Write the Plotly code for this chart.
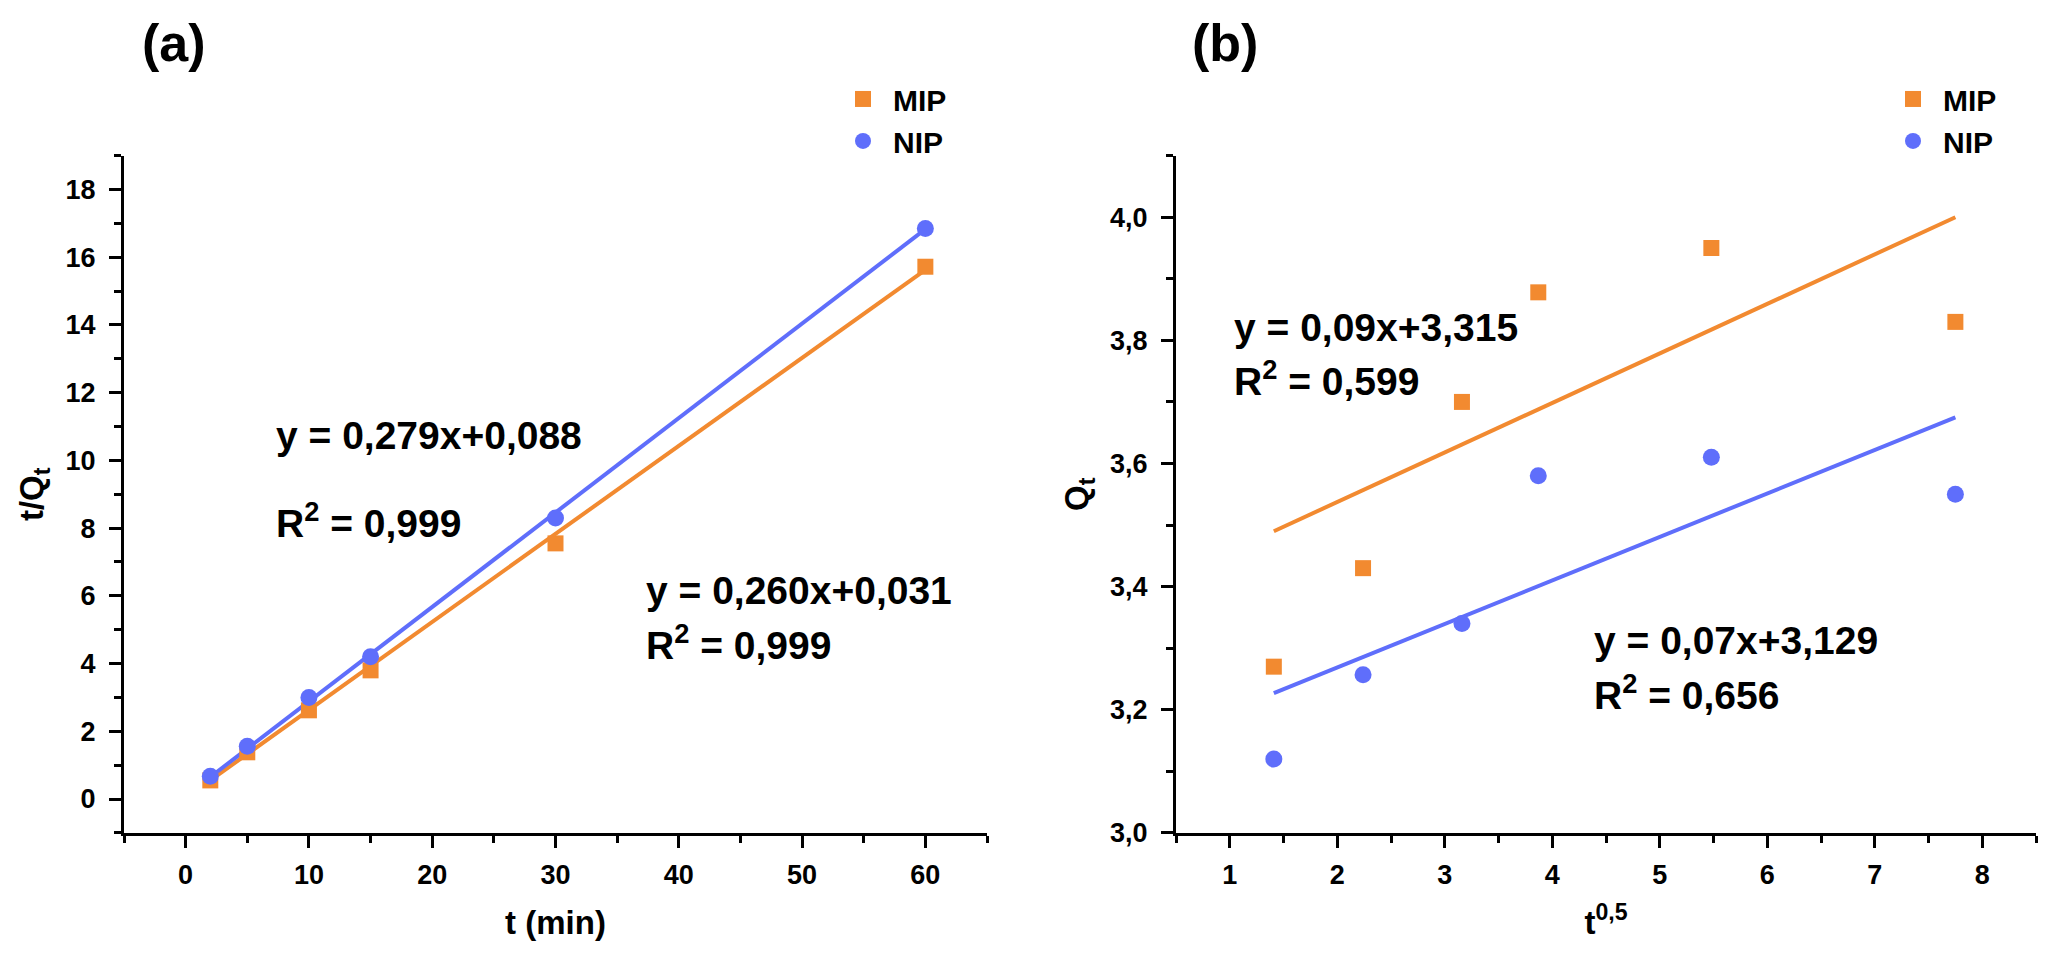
import plotly.graph_objects as go

# panel (a): pseudo-second-order, t/Qt vs t
t_min = [2, 5, 10, 15, 30, 60]
mip_tq = [0.55, 1.38, 2.62, 3.8, 7.55, 15.72]
nip_tq = [0.67, 1.56, 3.0, 4.2, 8.3, 16.85]
fit_t = [2, 60]
mip_fit_a = [0.55, 15.63]
nip_fit_a = [0.65, 16.83]

# panel (b): intraparticle diffusion, Qt vs t^0.5
t_sqrt = [1.41, 2.24, 3.16, 3.87, 5.48, 7.75]
mip_qt = [3.27, 3.43, 3.70, 3.878, 3.95, 3.83]
nip_qt = [3.12, 3.257, 3.34, 3.58, 3.61, 3.55]
fit_sqrt = [1.41, 7.75]
mip_fit_b = [3.49, 4.0]
nip_fit_b = [3.227, 3.675]

orange = '#F28A30'
blue = '#5F6EFB'
fnt = 'Liberation Sans, Arial, sans-serif'

fig = go.Figure()

# fit lines first so the markers sit on top
fig.add_trace(go.Scatter(x=fit_t, y=mip_fit_a, mode='lines', line=dict(color=orange, width=4),
                         showlegend=False, xaxis='x', yaxis='y'))
fig.add_trace(go.Scatter(x=fit_t, y=nip_fit_a, mode='lines', line=dict(color=blue, width=4),
                         showlegend=False, xaxis='x', yaxis='y'))
fig.add_trace(go.Scatter(x=t_min, y=mip_tq, mode='markers', name='MIP',
                         marker=dict(symbol='square', size=16, color=orange),
                         xaxis='x', yaxis='y', legend='legend'))
fig.add_trace(go.Scatter(x=t_min, y=nip_tq, mode='markers', name='NIP',
                         marker=dict(symbol='circle', size=17, color=blue),
                         xaxis='x', yaxis='y', legend='legend'))

fig.add_trace(go.Scatter(x=fit_sqrt, y=mip_fit_b, mode='lines', line=dict(color=orange, width=4),
                         showlegend=False, xaxis='x2', yaxis='y2'))
fig.add_trace(go.Scatter(x=fit_sqrt, y=nip_fit_b, mode='lines', line=dict(color=blue, width=4),
                         showlegend=False, xaxis='x2', yaxis='y2'))
fig.add_trace(go.Scatter(x=t_sqrt, y=mip_qt, mode='markers', name='MIP',
                         marker=dict(symbol='square', size=16, color=orange),
                         xaxis='x2', yaxis='y2', legend='legend2'))
fig.add_trace(go.Scatter(x=t_sqrt, y=nip_qt, mode='markers', name='NIP',
                         marker=dict(symbol='circle', size=17, color=blue),
                         xaxis='x2', yaxis='y2', legend='legend2'))

minor_common = dict(ticks='outside', ticklen=7, tickwidth=2.5, tickcolor='black')
axis_common = dict(showline=True, linecolor='black', linewidth=3, mirror=False,
                   ticks='outside', ticklen=12, tickwidth=2.5, tickcolor='black',
                   showgrid=False, zeroline=False,
                   tickfont=dict(family=fnt, size=27, color='black', weight='bold'),
                   title_font=dict(family=fnt, size=33, color='black', weight='bold'))

ydom = [1 - 838 / 959, 1 - 150 / 959]
leg_font = dict(family=fnt, size=30, color='black', weight='bold')

fig.update_layout(
    width=2056, height=959,
    margin=dict(l=0, r=0, t=0, b=0),
    plot_bgcolor='white', paper_bgcolor='white',
    separators=',.',
    font=dict(family=fnt, color='black'),
    xaxis=dict(axis_common, domain=[116 / 2056, 979 / 2056], range=[-5, 65],
               tick0=0, dtick=10, anchor='y', ticklabelstandoff=4,
               minor=dict(minor_common, dtick=5, tick0=-5),
               title=dict(text='t (min)', standoff=22)),
    yaxis=dict(axis_common, domain=ydom, range=[-1, 19], tick0=0, dtick=2, anchor='x',
               ticklabelstandoff=8,
               minor=dict(minor_common, dtick=1, tick0=-1),
               title=dict(text='t/Q<sub>t</sub>', standoff=12)),
    xaxis2=dict(axis_common, domain=[1168 / 2056, 2028 / 2056], range=[0.5, 8.5],
                tick0=1, dtick=1, anchor='y2', ticklabelstandoff=4,
                minor=dict(minor_common, dtick=0.5, tick0=0.5),
                title=dict(text='t<sup>0,5</sup>', standoff=22)),
    yaxis2=dict(axis_common, domain=ydom, range=[3.0, 4.1], tick0=3.0, dtick=0.2,
                tickformat='.1f', anchor='x2', ticklabelstandoff=8,
                minor=dict(minor_common, dtick=0.1, tick0=3.0),
                title=dict(text='Q<sub>t</sub>', standoff=12)),
    legend=dict(x=825 / 2056, y=1 - 66 / 959, xanchor='left', yanchor='top',
                bgcolor='rgba(0,0,0,0)', font=leg_font, itemwidth=50),
    legend2=dict(x=1875 / 2056, y=1 - 66 / 959, xanchor='left', yanchor='top',
                 bgcolor='rgba(0,0,0,0)', font=leg_font, itemwidth=50),
)

notes = [
    (132, 36, '(a)', 52),
    (1182, 36, '(b)', 52),
    (266, 434, 'y = 0,279x+0,088', 39),
    (266, 521, 'R<sup>2</sup> = 0,999', 39),
    (636, 592, 'y = 0,260x+0,031', 39),
    (636, 645, 'R<sup>2</sup> = 0,999', 39),
    (1224, 325, 'y = 0,09x+3,315', 39),
    (1224, 376, 'R<sup>2</sup> = 0,599', 39),
    (1584, 643, 'y = 0,07x+3,129', 39),
    (1584, 695, 'R<sup>2</sup> = 0,656', 39),
]
for px, py, txt, sz in notes:
    fig.add_annotation(x=px / 2056, y=1 - py / 959, xref='paper', yref='paper',
                       xanchor='left', yanchor='middle', text=txt, showarrow=False,
                       font=dict(family=fnt, size=sz, color='black', weight='bold'))

fig.write_html("out.html")
